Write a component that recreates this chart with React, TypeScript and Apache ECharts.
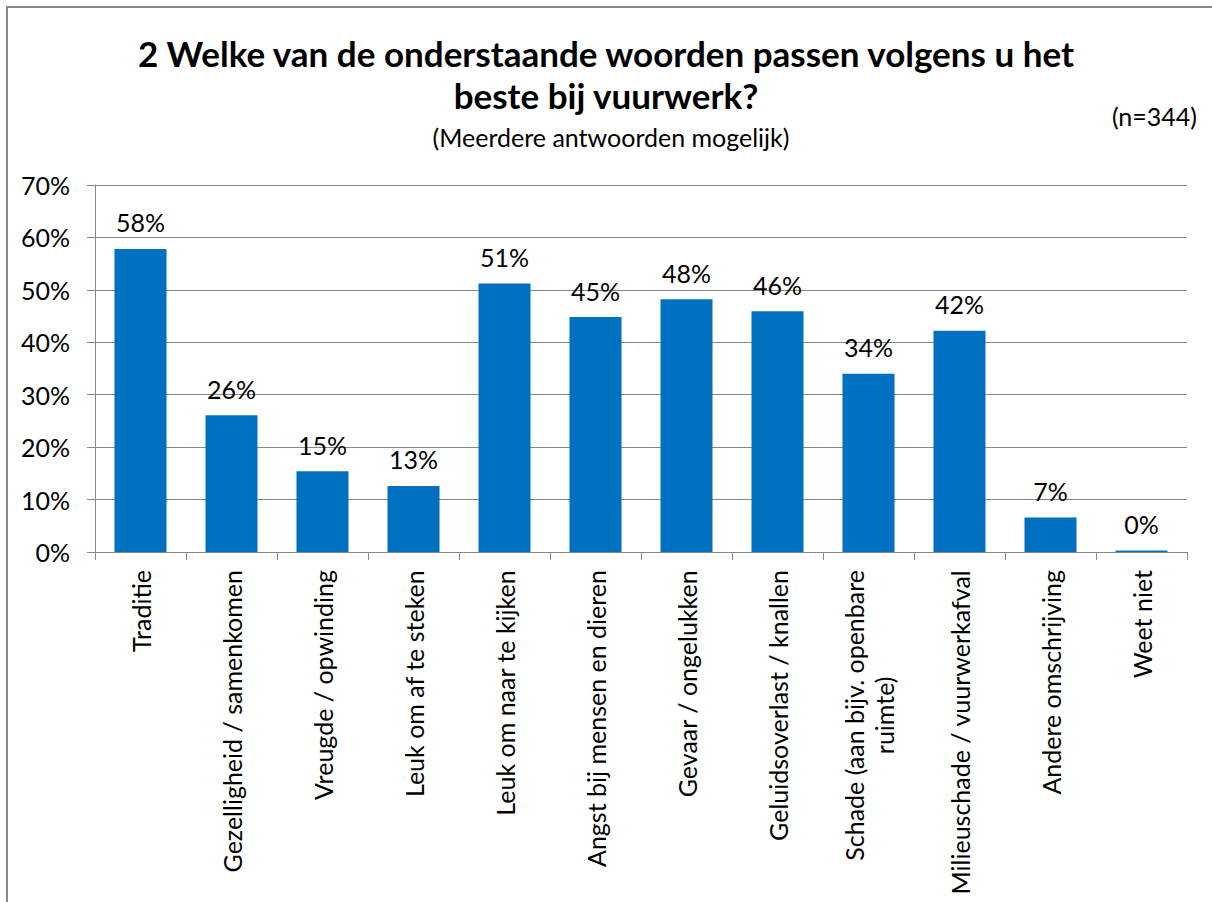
import React, { useEffect, useRef } from "react";
import * as echarts from "echarts";

const categories = [
  "Traditie",
  "Gezelligheid / samenkomen",
  "Vreugde / opwinding",
  "Leuk om af te steken",
  "Leuk om naar te kijken",
  "Angst bij mensen en dieren",
  "Gevaar / ongelukken",
  "Geluidsoverlast / knallen",
  "Schade (aan bijv. openbare\nruimte)",
  "Milieuschade / vuurwerkafval",
  "Andere omschrijving",
  "Weet niet",
];
const values = [57.8, 26.1, 15.4, 12.6, 51.2, 44.8, 48.2, 45.9, 34.0, 42.2, 6.6, 0.3];
const titleLines = ["2 Welke van de onderstaande woorden passen volgens u het", "beste bij vuurwerk?"];
const subtitle = "(Meerdere antwoorden mogelijk)";
const sampleNote = "(n=344)";

const FONT = "Lato";

export default function App() {
  const ref = useRef<HTMLDivElement>(null);
  useEffect(() => {
    if (!ref.current) return;
    const chart = echarts.init(ref.current, null, { renderer: "svg" });
    chart.setOption({
      animation: false,
      backgroundColor: "#ffffff",
      textStyle: { fontFamily: FONT },
      title: [
        {
          text: titleLines.join("\n"),
          left: "center",
          top: 27,
          textStyle: { fontFamily: FONT, fontSize: 35, fontWeight: "bold", color: "#000", lineHeight: 42 },
        },
      ],
      graphic: [
        {
          type: "rect",
          shape: { x: 7, y: 7, width: 1250, height: 1000 },
          style: { fill: "none", stroke: "#898989", lineWidth: 2 },
          silent: true,
        },
        {
          type: "text",
          x: 611,
          y: 137,
          style: { text: subtitle, font: `25px ${FONT}`, fill: "#000", align: "center", verticalAlign: "middle" },
        },
        {
          type: "text",
          x: 1197,
          y: 116,
          style: { text: sampleNote, font: `25px ${FONT}`, fill: "#000", align: "right", verticalAlign: "middle" },
        },
      ],
      grid: { left: 95, right: 25, top: 185, bottom: 350, containLabel: false },
      xAxis: {
        type: "category",
        data: categories,
        axisLine: { show: true, lineStyle: { color: "#868686", width: 1 } },
        axisTick: { show: true, length: 8, lineStyle: { color: "#868686" }, alignWithLabel: false },
        axisLabel: {
          rotate: 90,
          interval: 0,
          margin: 18,
          color: "#000",
          fontFamily: FONT,
          fontSize: 25,
          lineHeight: 30,
          formatter: (v: string) =>
            v
              .split("\n")
              .map((l) => `{c|${l}}`)
              .join("\n"),
          rich: { c: { align: "center", fontFamily: FONT, fontSize: 25, color: "#000", lineHeight: 30 } },
        },
      },
      yAxis: {
        type: "value",
        min: 0,
        max: 70,
        interval: 10,
        axisLine: { show: true, lineStyle: { color: "#868686", width: 1 } },
        axisTick: { show: true, length: 8, lineStyle: { color: "#868686" } },
        splitLine: { show: true, lineStyle: { color: "#868686", width: 1 } },
        axisLabel: { formatter: "{value}%", margin: 25, color: "#000", fontFamily: FONT, fontSize: 25 },
      },
      series: [
        {
          type: "bar",
          data: values,
          barWidth: 52,
          itemStyle: { color: "#0070C0" },
          label: {
            show: true,
            position: "top",
            distance: 14,
            color: "#000",
            fontFamily: FONT,
            fontSize: 25,
            formatter: (p: any) => `${Math.round(p.value)}%`,
          },
        },
      ],
    });
    return () => chart.dispose();
  }, []);
  return <div ref={ref} style={{ position: "absolute", left: 0, top: 0, width: 1212, height: 902 }} />;
}
